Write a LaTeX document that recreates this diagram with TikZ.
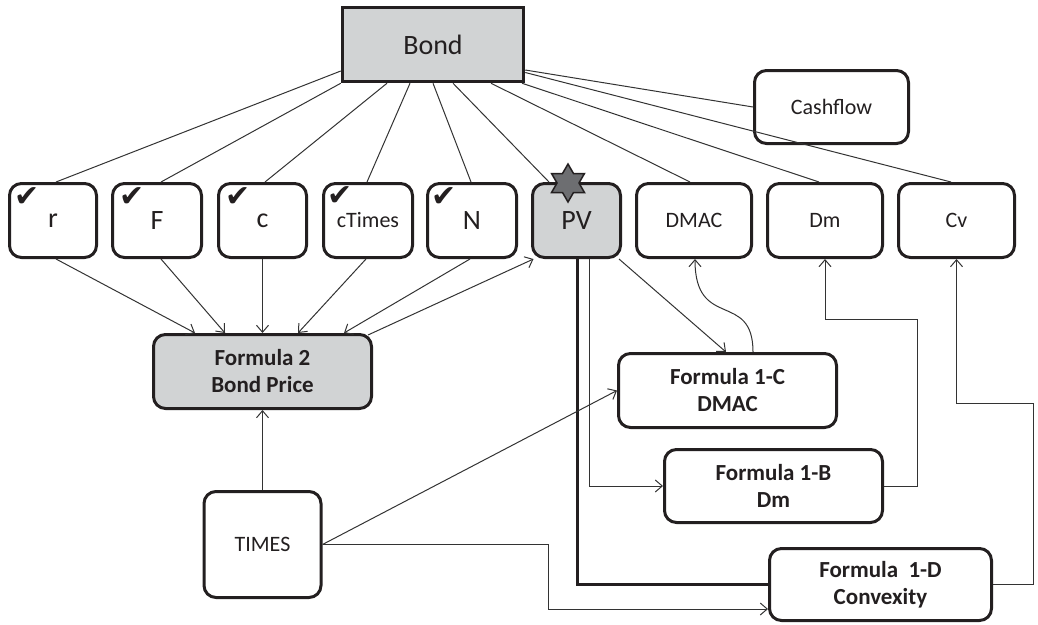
\documentclass[tikz,border=0pt]{standalone}
\usepackage{fontspec}
\setmainfont{Carlito}
\newfontfamily\symfont{DejaVu Sans}
\usetikzlibrary{arrows.meta,calc,shapes.geometric}
\definecolor{ink}{HTML}{231F20}
\definecolor{boxgray}{HTML}{D1D3D4}
\definecolor{stargray}{HTML}{6D6E71}
\definecolor{linegray}{HTML}{333333}
\tikzset{
  box/.style={draw=ink, line width=3pt, rounded corners=12pt, fill=white, text=ink, align=center, inner sep=0pt},
  graybox/.style={box, fill=boxgray},
  big/.style={font=\fontsize{28}{32}\selectfont},
  mid/.style={font=\fontsize{22}{26}\selectfont},
  formula/.style={font=\fontsize{23}{27}\selectfont\bfseries},
  conn/.style={draw=linegray, line width=1pt},
  arr/.style={conn, -{Straight Barb[length=7pt,width=12pt]}},
  thickconn/.style={draw=ink, line width=3pt},
  tick/.style={font=\symfont\fontsize{30}{30}\selectfont, text=ink, inner sep=0pt},
  hexstar/.style={star, star points=6, star point ratio=1.732, minimum size=38pt, inner sep=0pt, fill=stargray, draw=ink, line width=1.5pt}
}
\begin{document}
\begin{tikzpicture}[x=1pt,y=-1pt]
\useasboundingbox (0,0) rectangle (1038,624);
% top
\node[box, fill=boxgray, rounded corners=0pt, line width=3.5pt, big, minimum width=181pt, minimum height=74pt] (bond) at (433,44.5) {Bond};
\node[box, mid, minimum width=154pt, minimum height=73pt] (cash) at (831.5,107) {Cashflow};
% row
\node[box, big, minimum width=87pt, minimum height=74pt] (r) at (53,220.5) {r};
\node[box, big, minimum width=89pt, minimum height=74pt] (F) at (157,220.5) {F};
\node[box, big, minimum width=88pt, minimum height=74pt] (c) at (262.5,220.5) {c};
\node[box, mid, minimum width=89pt, minimum height=74pt] (ct) at (368,220.5) {\raisebox{-2pt}{cTimes}};
\node[box, big, minimum width=89pt, minimum height=74pt] (N) at (472,220.5) {N};
\node[graybox, big, minimum width=88pt, minimum height=74pt] (pv) at (576.5,220.5) {PV};
\node[box, mid, minimum width=115pt, minimum height=74pt] (dmac) at (694,220.5) {DMAC};
\node[box, mid, minimum width=115pt, minimum height=74pt] (dm) at (825,220.5) {Dm};
\node[box, mid, minimum width=116pt, minimum height=74pt] (cv) at (956.5,220.5) {Cv};
% checks
\node[tick] (tr) at ($(r.north west)+(19,15)$) {✔};
\node[tick] (tF) at ($(F.north west)+(21,15)$) {✔};
\node[tick] (tc) at ($(c.north west)+(21,15)$) {✔};
\node[tick] (tct) at ($(ct.north west)+(18,14)$) {✔};
\node[tick] (tN) at ($(N.north west)+(18,15)$) {✔};
% formulas
\node[graybox, formula, minimum width=218pt, minimum height=74pt] (f2) at (262.5,371.5) {Formula 2\\Bond Price};
\node[box, formula, minimum width=218pt, minimum height=74pt] (f1c) at (727.5,390.5) {Formula 1-C\\DMAC};
\node[box, formula, minimum width=218pt, minimum height=73pt] (f1b) at (773.5,486) {Formula 1-B\\Dm};
\node[box, formula, minimum width=222pt, minimum height=72pt] (f1d) at (880.5,584.5) {Formula~ 1-D\\Convexity};
\node[box, mid, minimum width=117pt, minimum height=106pt] (times) at (262.5,544.5) {TIMES};
% Bond connectors
\draw[conn] ($(bond.west)+(0,26.5)$) -- ($(r.north)+(3,0)$);
\draw[conn] (bond.south west) -- ($(F.north)+(4,0)$);
\draw[conn] ($(bond.south)+(-46,0)$) -- ($(c.north)+(2.5,0)$);
\draw[conn] ($(bond.south)+(-23,0)$) -- ($(ct.north)+(-1,0)$);
\draw[conn] ($(bond.south)+(0,0)$) -- ($(N.north)+(-1,0)$);
\draw[conn] ($(bond.south)+(20,0)$) -- ($(pv.north)+(-27.5,0)$);
\draw[conn] ($(bond.south)+(58,0)$) -- ($(dmac.north)+(-4,0)$);
\draw[conn] ($(bond.south)+(89,0)$) -- ($(dm.north)+(-6,0)$);
\draw[conn] ($(bond.east)+(0,28)$) -- ($(cv.north)+(-5.5,0)$);
\draw[conn] ($(bond.east)+(0,25.5)$) -- (cash.west);
% star on PV
\node[hexstar] (star) at (568,183) {};
% row to Formula 2
\draw[arr] ($(r.south)+(3,0)$) -- ($(f2.north)+(-67.5,0)$);
\draw[arr] ($(F.south)+(4,0)$) -- ($(f2.north)+(-37.5,0)$);
\draw[arr] (c.south) -- (f2.north);
\draw[arr] ($(ct.south)+(-2,0)$) -- ($(f2.north)+(35.5,0)$);
\draw[arr] ($(N.south)+(-2,0)$) -- ($(f2.north)+(81.5,0)$);
\draw[arr] ($(f2.north east)+(-5,2)$) -- ($(pv.south west)+(2.5,0)$);
\draw[arr] (times.north) -- (f2.south);
% PV to formulas
\draw[arr] ($(pv.south east)+(-3,0)$) -- ($(f1c.north)+(-1.5,0)$);
\draw[arr] ($(f1c.north)+(25.5,0)$) .. controls ($(f1c.north)+(25.5,-62)$) and ($(dmac.south)+(1,72)$) .. ($(dmac.south)+(1,0)$);
\draw[arr] ($(pv.south)+(12.5,0)$) |- (f1b.west);
\draw[thickconn] ($(pv.south)+(0.5,0)$) |- (f1d.west);
% formulas to outputs
\coordinate (dmA) at (917,319);
\draw[arr] (f1b.east) -| (dmA) -| (dm.south);
\coordinate (cvA) at (1033,403);
\draw[arr] (f1d.east) -| (cvA) -| (cv.south);
% TIMES
\draw[arr] (times.east) -- (f1c.west);
\coordinate (tA) at (548,609);
\draw[arr] (times.east) -| (tA) -- (tA -| f1d.west);
\end{tikzpicture}
\end{document}
